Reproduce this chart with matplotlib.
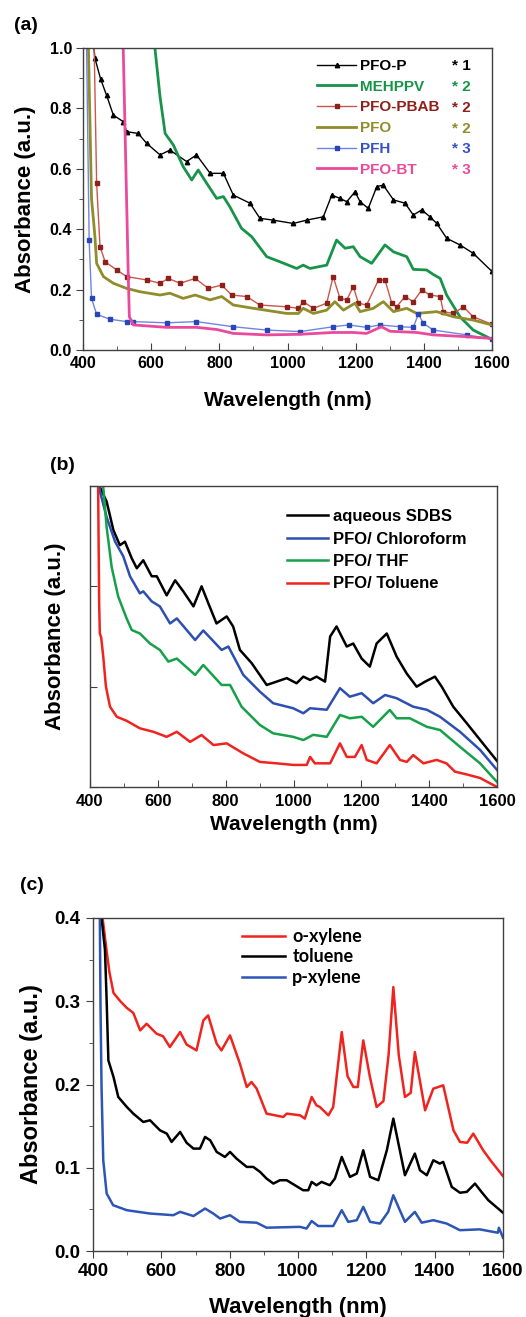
import matplotlib
matplotlib.use('Agg')
import matplotlib.pyplot as plt
from matplotlib.ticker import MultipleLocator, NullFormatter

plt.rcParams['font.family'] = ['Liberation Sans', 'DejaVu Sans']
plt.rcParams['font.weight'] = 'bold'

# ---------------- data: panel (a) ----------------
a_names = ['PFO-P', 'MEHPPV', 'PFO-PBAB', 'PFO', 'PFH', 'PFO-BT']
a_stars = ['* 1', '* 2', '* 2', '* 2', '* 3', '* 3']

a_pfop_wl = [428, 435, 452, 469, 489, 518, 528, 562, 587, 626, 655, 704, 733, 773, 812, 841, 890, 919, 958,
             1017, 1056, 1105, 1130, 1154, 1174, 1198, 1213, 1237, 1262, 1281, 1311, 1345, 1369, 1394, 1418,
             1438, 1467, 1506, 1545, 1600]
a_pfop_abs = [1.05, 0.966, 0.896, 0.844, 0.778, 0.756, 0.723, 0.717, 0.684, 0.646, 0.662, 0.624, 0.646, 0.585,
              0.585, 0.513, 0.486, 0.436, 0.43, 0.419, 0.43, 0.441, 0.513, 0.502, 0.491, 0.524, 0.491, 0.469,
              0.541, 0.546, 0.497, 0.486, 0.447, 0.464, 0.441, 0.419, 0.37, 0.348, 0.32, 0.26]

a_meh_wl = [604, 611, 626, 641, 665, 694, 719, 738, 763, 792, 812, 831, 865, 895, 939, 978, 1027, 1046, 1066,
            1115, 1144, 1169, 1193, 1213, 1247, 1286, 1311, 1350, 1369, 1408, 1428, 1448, 1467, 1506, 1545, 1600]
a_meh_abs = [1.1, 1.0, 0.839, 0.717, 0.679, 0.607, 0.563, 0.596, 0.552, 0.502, 0.508, 0.474, 0.403, 0.375,
             0.309, 0.292, 0.27, 0.281, 0.27, 0.281, 0.364, 0.337, 0.342, 0.309, 0.287, 0.348, 0.325, 0.309,
             0.267, 0.265, 0.25, 0.237, 0.182, 0.11, 0.066, 0.035]

a_pbab_wl = [432, 440, 450, 465, 499, 528, 587, 626, 650, 685, 729, 768, 807, 836, 880, 919, 998, 1032, 1046,
             1076, 1115, 1134, 1154, 1174, 1193, 1208, 1232, 1267, 1286, 1306, 1320, 1345, 1369, 1394, 1418,
             1448, 1457, 1487, 1516, 1545, 1600]
a_pbab_abs = [1.05, 0.552, 0.342, 0.292, 0.265, 0.243, 0.232, 0.221, 0.237, 0.221, 0.237, 0.204, 0.215, 0.182,
              0.177, 0.149, 0.143, 0.138, 0.16, 0.138, 0.155, 0.243, 0.171, 0.166, 0.21, 0.155, 0.149, 0.232,
              0.232, 0.155, 0.143, 0.177, 0.16, 0.199, 0.182, 0.177, 0.127, 0.121, 0.143, 0.11, 0.085]

a_pfo_wl = [415, 425, 430, 435, 440, 460, 489, 528, 567, 626, 655, 694, 729, 773, 807, 841, 900, 998, 1032,
            1046, 1076, 1115, 1139, 1164, 1198, 1213, 1252, 1281, 1311, 1350, 1379, 1438, 1487, 1545, 1600]
a_pfo_abs = [1.05, 0.5, 0.44, 0.375, 0.287, 0.243, 0.221, 0.204, 0.193, 0.182, 0.188, 0.171, 0.182, 0.166,
             0.177, 0.149, 0.138, 0.121, 0.121, 0.138, 0.121, 0.132, 0.16, 0.132, 0.155, 0.127, 0.138, 0.16,
             0.127, 0.138, 0.121, 0.127, 0.11, 0.099, 0.083]

a_pfh_wl = [410, 418, 425, 440, 479, 528, 548, 645, 733, 841, 939, 1037, 1134, 1179, 1232, 1271, 1330, 1369,
            1384, 1399, 1428, 1526, 1600]
a_pfh_abs = [1.05, 0.364, 0.171, 0.118, 0.102, 0.094, 0.094, 0.09, 0.094, 0.077, 0.066, 0.061, 0.077, 0.083,
             0.075, 0.083, 0.077, 0.075, 0.119, 0.088, 0.066, 0.05, 0.036]

a_pbt_wl = [510, 518, 533, 536, 548, 645, 733, 792, 841, 939, 1037, 1134, 1193, 1232, 1276, 1301, 1379, 1428,
            1526, 1600]
a_pbt_abs = [1.2, 1.0, 0.238, 0.11, 0.083, 0.075, 0.075, 0.068, 0.055, 0.05, 0.052, 0.058, 0.058, 0.055,
             0.077, 0.062, 0.058, 0.05, 0.044, 0.038]

# ---------------- data: panel (b) ----------------
b_names = ['aqueous SDBS', 'PFO/ Chloroform', 'PFO/ THF', 'PFO/ Toluene']

b_sdbs_wl = [425, 429, 449, 469, 488, 503, 523, 538, 557, 582, 597, 626, 651, 675, 705, 729, 749, 773, 803,
             822, 842, 877, 921, 950, 980, 1009, 1029, 1049, 1068, 1093, 1108, 1127, 1157, 1176, 1201, 1225,
             1245, 1275, 1304, 1334, 1363, 1388, 1417, 1437, 1471, 1511, 1550, 1600]
b_sdbs_abs = [3.1, 2.99, 2.845, 2.56, 2.41, 2.445, 2.28, 2.18, 2.26, 2.10, 2.10, 1.91, 2.06, 1.95, 1.80, 2.00,
              1.83, 1.63, 1.70, 1.60, 1.366, 1.233, 1.017, 1.05, 1.085, 1.034, 1.10, 1.067, 1.10, 1.05, 1.50,
              1.60, 1.40, 1.43, 1.28, 1.20, 1.43, 1.53, 1.30, 1.13, 1.00, 1.05, 1.10, 1.00, 0.80, 0.635, 0.47,
              0.26]

b_chl_wl = [425, 429, 449, 474, 498, 518, 547, 557, 582, 606, 636, 656, 710, 734, 788, 808, 852, 901, 940,
            999, 1029, 1049, 1098, 1137, 1166, 1201, 1235, 1270, 1304, 1353, 1393, 1432, 1491, 1550, 1600]
b_chl_abs = [3.1, 2.95, 2.69, 2.445, 2.30, 2.10, 1.93, 1.95, 1.85, 1.80, 1.63, 1.68, 1.465, 1.56, 1.366, 1.40,
             1.117, 0.95, 0.835, 0.785, 0.735, 0.785, 0.77, 0.985, 0.90, 0.935, 0.835, 0.917, 0.885, 0.80,
             0.77, 0.70, 0.55, 0.37, 0.17]

b_thf_wl = [436, 439, 449, 464, 483, 508, 523, 547, 577, 606, 631, 656, 710, 734, 788, 813, 847, 901, 940,
            999, 1029, 1058, 1098, 1137, 1166, 1201, 1235, 1284, 1304, 1343, 1393, 1432, 1491, 1550, 1600]
b_thf_abs = [3.1, 2.99, 2.59, 2.19, 1.90, 1.68, 1.565, 1.53, 1.43, 1.366, 1.25, 1.28, 1.117, 1.216, 1.017,
             1.017, 0.80, 0.618, 0.535, 0.50, 0.468, 0.52, 0.50, 0.718, 0.685, 0.70, 0.60, 0.768, 0.685,
             0.685, 0.60, 0.568, 0.40, 0.236, 0.05]

b_tol_wl = [422, 424, 427, 429, 433, 439, 447, 459, 479, 508, 547, 587, 626, 656, 695, 729, 764, 803, 852,
            901, 950, 999, 1039, 1049, 1063, 1108, 1137, 1157, 1181, 1201, 1216, 1245, 1284, 1314, 1334,
            1353, 1383, 1422, 1451, 1476, 1511, 1550, 1600]
b_tol_abs = [3.1, 2.99, 1.83, 1.53, 1.49, 1.3, 1.0, 0.80, 0.70, 0.66, 0.585, 0.55, 0.50, 0.55, 0.45, 0.518,
             0.418, 0.435, 0.335, 0.25, 0.236, 0.22, 0.22, 0.30, 0.236, 0.236, 0.435, 0.30, 0.30, 0.418,
             0.27, 0.236, 0.418, 0.27, 0.25, 0.318, 0.236, 0.27, 0.236, 0.153, 0.125, 0.09, 0.0]

# ---------------- data: panel (c) ----------------
c_names = ['o-xylene', 'toluene', 'p-xylene']

c_ox_wl = [428, 440, 448, 460, 480, 499, 518, 538, 557, 586, 605, 625, 655, 674, 703, 723, 737, 762, 776, 801,
           830, 850, 864, 879, 908, 957, 967, 1006, 1020, 1040, 1054, 1064, 1089, 1103, 1128, 1145, 1162,
           1175, 1191, 1210, 1230, 1250, 1265, 1279, 1295, 1313, 1330, 1342, 1372, 1396, 1425, 1455, 1474,
           1495, 1513, 1542, 1565, 1600]
c_ox_abs = [0.40, 0.36, 0.335, 0.31, 0.30, 0.292, 0.286, 0.265, 0.273, 0.261, 0.258, 0.245, 0.263, 0.248,
            0.241, 0.277, 0.283, 0.249, 0.241, 0.259, 0.225, 0.197, 0.203, 0.195, 0.165, 0.161, 0.165, 0.163,
            0.159, 0.185, 0.175, 0.173, 0.163, 0.173, 0.263, 0.21, 0.197, 0.197, 0.253, 0.21, 0.173, 0.18,
            0.235, 0.317, 0.235, 0.185, 0.19, 0.239, 0.169, 0.195, 0.199, 0.145, 0.131, 0.13, 0.141, 0.121,
            0.108, 0.09]

c_tol_wl = [425, 435, 440, 445, 460, 474, 499, 518, 547, 567, 596, 616, 630, 655, 674, 694, 713, 728, 743,
            762, 786, 801, 820, 850, 869, 889, 908, 928, 947, 967, 991, 1015, 1030, 1040, 1054, 1069, 1093,
            1108, 1128, 1152, 1172, 1191, 1211, 1235, 1260, 1279, 1298, 1313, 1342, 1357, 1377, 1396, 1415,
            1425, 1450, 1474, 1494, 1518, 1537, 1557, 1600]
c_tol_abs = [0.40, 0.362, 0.30, 0.229, 0.209, 0.185, 0.173, 0.165, 0.155, 0.157, 0.145, 0.141, 0.131, 0.143,
             0.13, 0.123, 0.123, 0.137, 0.133, 0.119, 0.113, 0.119, 0.111, 0.101, 0.101, 0.095, 0.087, 0.081,
             0.085, 0.085, 0.079, 0.073, 0.073, 0.083, 0.079, 0.083, 0.079, 0.087, 0.113, 0.089, 0.093, 0.121,
             0.089, 0.085, 0.121, 0.159, 0.121, 0.091, 0.117, 0.097, 0.091, 0.109, 0.105, 0.107, 0.077, 0.07,
             0.071, 0.081, 0.071, 0.061, 0.046]

c_px_wl = [420, 422, 425, 430, 440, 459, 499, 567, 635, 655, 694, 728, 752, 772, 801, 830, 879, 908, 1006,
           1025, 1040, 1059, 1103, 1128, 1147, 1172, 1191, 1211, 1240, 1264, 1279, 1298, 1313, 1342, 1362,
           1396, 1435, 1474, 1532, 1571, 1585, 1588, 1600]
c_px_abs = [0.40, 0.293, 0.197, 0.109, 0.069, 0.055, 0.049, 0.045, 0.043, 0.047, 0.042, 0.051, 0.045, 0.039,
            0.043, 0.035, 0.034, 0.028, 0.029, 0.027, 0.036, 0.03, 0.03, 0.049, 0.035, 0.037, 0.053, 0.035,
            0.033, 0.047, 0.067, 0.049, 0.035, 0.047, 0.034, 0.037, 0.033, 0.025, 0.026, 0.023, 0.022, 0.028,
            0.016]

# ---------------- figure ----------------
W, H = 526, 1317
fig = plt.figure(figsize=(W / 100, H / 100), dpi=100)


def box(l, t, r, b):
    return [l / W, 1 - b / H, (r - l) / W, (b - t) / H]


def ftxt(x, y, s, **kw):
    fig.text(x / W, 1 - y / H, s, **kw)


SPINE = '#404040'


def style(ax):
    for s in ax.spines.values():
        s.set_color(SPINE)
        s.set_linewidth(1.0)


# ---- panel (a) ----
ax = fig.add_axes(box(83, 48, 492, 350))
style(ax)
a_cols = ['#000000', '#17944a', '#b3312b', '#8f8d2c', '#3552c4', '#ea4a9c']
a_text_cols = ['#000000', '#17944a', '#8e1f1a', '#8f8d2c', '#3552c4', '#ea4a9c']
ax.plot(a_pfop_wl, a_pfop_abs, color=a_cols[0], lw=1.0, marker='^', ms=3.2, label=a_names[0])
ax.plot(a_meh_wl, a_meh_abs, color=a_cols[1], lw=2.0, label=a_names[1])
ax.plot(a_pbab_wl, a_pbab_abs, color='#c8574e', lw=1.0, marker='s', ms=2.6, mfc='#8e1f1a', mec='#8e1f1a',
        label=a_names[2])
ax.plot(a_pfo_wl, a_pfo_abs, color=a_cols[3], lw=2.0, label=a_names[3])
ax.plot(a_pfh_wl, a_pfh_abs, color='#6f86e0', lw=1.0, marker='s', ms=2.4, mfc='#2946b8', mec='#2946b8',
        label=a_names[4])
ax.plot(a_pbt_wl, a_pbt_abs, color=a_cols[5], lw=2.0, label=a_names[5])
ax.set_xlim(400, 1600)
ax.set_ylim(0, 1.0)
ax.xaxis.set_major_locator(MultipleLocator(200))
ax.xaxis.set_minor_locator(MultipleLocator(100))
ax.yaxis.set_major_locator(MultipleLocator(0.2))
ax.yaxis.set_minor_locator(MultipleLocator(0.1))
ax.yaxis.set_major_formatter(plt.FormatStrFormatter('%.1f'))
ax.tick_params(axis='x', which='both', direction='in', labelsize=11.5, pad=4, color=SPINE)
ax.tick_params(axis='x', which='major', length=5)
ax.tick_params(axis='x', which='minor', length=3)
ax.tick_params(axis='y', which='both', direction='out', labelsize=11.5, pad=3, color=SPINE)
ax.tick_params(axis='y', which='major', length=5)
ax.tick_params(axis='y', which='minor', length=3)
for lab in ax.get_xticklabels() + ax.get_yticklabels():
    lab.set_fontweight('bold')
ax.set_xlabel('Wavelength (nm)', fontsize=15, fontweight='bold', labelpad=15)
ax.set_ylabel('Absorbance (a.u.)', fontsize=16, fontweight='bold', labelpad=10)
leg = ax.legend(loc='upper left', bbox_to_anchor=((316.7 - 83) / 409, (350 - 59) / 302), frameon=False,
                handlelength=2.6, handletextpad=0.25, labelspacing=0.44, borderpad=0,
                borderaxespad=0, numpoints=1, prop={'weight': 'bold', 'size': 11})
for t, c in zip(leg.get_texts(), a_text_cols):
    t.set_color(c)
row_y = [66, 87.3, 108.3, 128.8, 149.3, 170]
for s, c, yy in zip(a_stars, a_text_cols, row_y):
    ax.text((452 - 83) / 409, (350 - yy) / 302, s, transform=ax.transAxes, color=c, fontsize=11,
            fontweight='bold', va='center', ha='left')
ftxt(14, 25, '(a)', fontsize=14, fontweight='bold', va='center', ha='left')

# ---- panel (b) ----
bx = fig.add_axes(box(90, 486, 497, 787))
style(bx)
b_cols = ['#000000', '#2d4fb0', '#16a04a', '#f0241f']
bx.plot(b_sdbs_wl, b_sdbs_abs, color=b_cols[0], lw=1.8, label=b_names[0])
bx.plot(b_chl_wl, b_chl_abs, color=b_cols[1], lw=1.8, label=b_names[1])
bx.plot(b_thf_wl, b_thf_abs, color=b_cols[2], lw=1.8, label=b_names[2])
bx.plot(b_tol_wl, b_tol_abs, color=b_cols[3], lw=1.8, label=b_names[3])
bx.set_xlim(400, 1600)
bx.set_ylim(0, 3)
bx.xaxis.set_major_locator(MultipleLocator(200))
bx.xaxis.set_minor_locator(MultipleLocator(100))
bx.yaxis.set_major_locator(MultipleLocator(1))
bx.yaxis.set_major_formatter(NullFormatter())
bx.tick_params(axis='both', which='both', direction='in', labelsize=12, color=SPINE)
bx.tick_params(axis='x', which='major', length=5, pad=5)
bx.tick_params(axis='x', which='minor', length=3)
bx.tick_params(axis='y', which='major', length=5)
for lab in bx.get_xticklabels():
    lab.set_fontweight('bold')
bx.set_xlabel('Wavelength (nm)', fontsize=15, fontweight='bold', labelpad=4)
bx.set_ylabel('Absorbance (a.u.)', fontsize=16, fontweight='bold', labelpad=14)
leg = bx.legend(loc='upper left', bbox_to_anchor=((286.7 - 90) / 407, (787 - 509) / 301), frameon=False,
                handlelength=2.5, handletextpad=0.3, labelspacing=0.45, borderpad=0, borderaxespad=0,
                prop={'weight': 'bold', 'size': 12})
ftxt(50, 466, '(b)', fontsize=14, fontweight='bold', va='center', ha='left')

# ---- panel (c) ----
cx = fig.add_axes(box(93, 918, 503, 1251))
style(cx)
c_cols = ['#f0241f', '#000000', '#2d55b5']
cx.plot(c_ox_wl, c_ox_abs, color=c_cols[0], lw=1.8, label=c_names[0])
cx.plot(c_tol_wl, c_tol_abs, color=c_cols[1], lw=1.8, label=c_names[1])
cx.plot(c_px_wl, c_px_abs, color=c_cols[2], lw=1.8, label=c_names[2])
cx.set_xlim(400, 1600)
cx.set_ylim(0, 0.4)
cx.xaxis.set_major_locator(MultipleLocator(200))
cx.xaxis.set_minor_locator(MultipleLocator(100))
cx.yaxis.set_major_locator(MultipleLocator(0.1))
cx.yaxis.set_minor_locator(MultipleLocator(0.05))
cx.yaxis.set_major_formatter(plt.FormatStrFormatter('%.1f'))
cx.tick_params(axis='both', which='both', direction='out', labelsize=13.5, color=SPINE)
cx.tick_params(axis='both', which='major', length=5, pad=4)
cx.tick_params(axis='both', which='minor', length=3)
for lab in cx.get_xticklabels() + cx.get_yticklabels():
    lab.set_fontweight('bold')
cx.set_xlabel('Wavelength (nm)', fontsize=16, fontweight='bold', labelpad=12)
cx.set_ylabel('Absorbance (a.u.)', fontsize=17, fontweight='bold', labelpad=8)
leg = cx.legend(loc='upper left', bbox_to_anchor=((241.7 - 93) / 410, (1251 - 928) / 333), frameon=False,
                handlelength=2.4, handletextpad=0.4, labelspacing=0.19, borderpad=0, borderaxespad=0,
                prop={'family': 'Lato', 'weight': 'bold', 'size': 13})
ftxt(20, 886, '(c)', fontsize=14, fontweight='bold', va='center', ha='left')

fig.savefig('out.png', dpi=100)
